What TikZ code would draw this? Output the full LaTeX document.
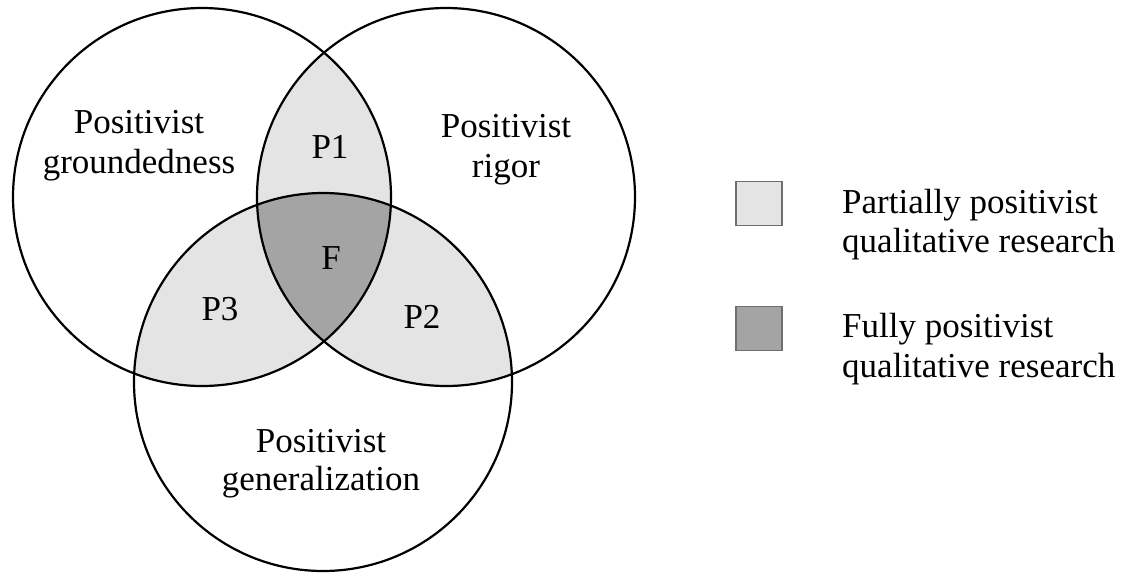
\documentclass[tikz,border=0pt]{standalone}
\usepackage{fontspec}
\setmainfont{Liberation Serif}
\definecolor{partfill}{RGB}{228,228,228}
\definecolor{fullfill}{RGB}{164,164,164}
\definecolor{keyedge}{RGB}{110,110,110}
\tikzset{
  ring/.style={draw=black, line width=2.2pt},
  lbl/.style={font=\fontsize{35}{40}\selectfont, inner sep=0pt, anchor=base},
  keytxt/.style={font=\fontsize{35}{40}\selectfont, inner sep=0pt, anchor=base west},
  keybox/.style={draw=keyedge, line width=1.6pt, minimum width=46pt, minimum height=44pt, inner sep=0pt}
}
\begin{document}
\begin{tikzpicture}[x=1pt, y=-1pt]
\useasboundingbox (0,0) rectangle (1124,573);
\fill[white] (0,0) rectangle (1124,573);

% circle centres
\coordinate (cL) at (202,197);
\coordinate (cR) at (446,197);
\coordinate (cB) at (323,382);
\def\rad{189}

% pairwise overlaps (partially positivist)
\begin{scope}
  \clip (cL) circle (\rad);
  \fill[partfill] (cR) circle (\rad);
  \fill[partfill] (cB) circle (\rad);
\end{scope}
\begin{scope}
  \clip (cR) circle (\rad);
  \fill[partfill] (cB) circle (\rad);
\end{scope}
% triple overlap (fully positivist)
\begin{scope}
  \clip (cL) circle (\rad);
  \clip (cR) circle (\rad);
  \fill[fullfill] (cB) circle (\rad);
\end{scope}

% outlines
\draw[ring] (cL) circle (\rad);
\draw[ring] (cR) circle (\rad);
\draw[ring] (cB) circle (\rad);

% circle labels
\node[lbl] (g1) at (139,133) {Positivist};
\node[lbl] (g2) at (139,173) {groundedness};
\node[lbl] (r1) at (506,137) {Positivist};
\node[lbl] (r2) at (506,177) {rigor};
\node[lbl] (n1) at (321,452) {Positivist};
\node[lbl] (n2) at (321,490) {generalization};

% region labels
\node[lbl] (p1) at (330,158) {P1};
\node[lbl] (p2) at (422,328) {P2};
\node[lbl] (p3) at (220,320) {P3};
\node[lbl] (f)  at (331,269) {F};

% legend
\node[keybox, fill=partfill] (k1) at (759,203.5) {};
\node[keybox, fill=fullfill] (k2) at (759,328.5) {};
\node[keytxt] (k1a) at (842,213) {Partially positivist};
\node[keytxt] (k1b) at (842,252) {qualitative research};
\node[keytxt] (k2a) at (842,337) {Fully positivist};
\node[keytxt] (k2b) at (842,377) {qualitative research};
\end{tikzpicture}
\end{document}
